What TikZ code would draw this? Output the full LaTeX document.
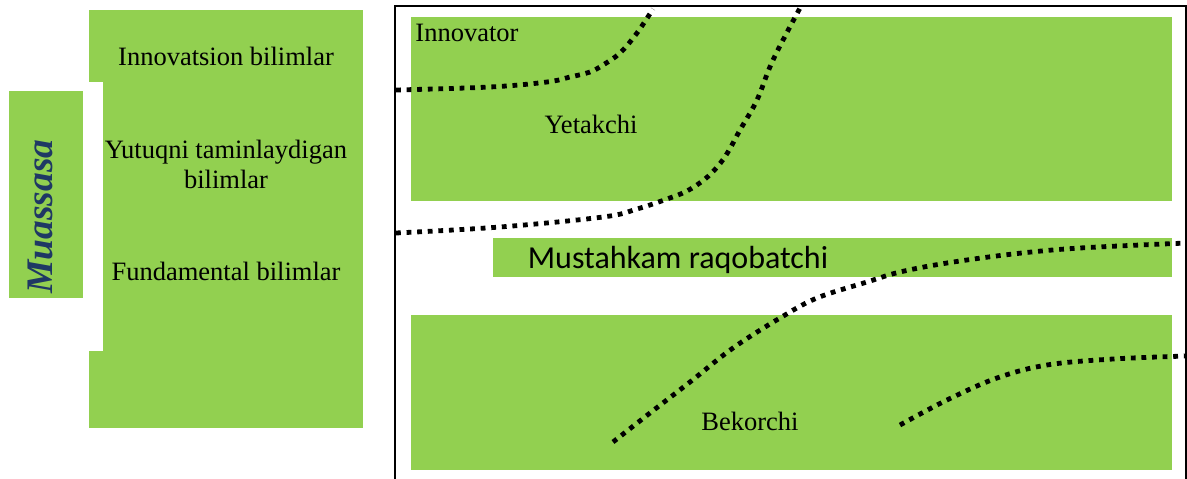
\documentclass[tikz,border=0pt]{standalone}
\usepackage{fontspec}
\setmainfont{Liberation Serif}
\newfontfamily\calfont{Carlito}
\definecolor{lgreen}{HTML}{92D050}
\definecolor{dblue}{HTML}{1F3864}
\tikzset{
  gbox/.style={fill=lgreen, draw=none},
  serif26/.style={font=\fontsize{26.5}{30}\selectfont, inner sep=0pt, anchor=base, text=black},
  frame/.style={draw=black, line cap=rect},
  dots/.style={line width=4.8pt, dash pattern=on 4.8pt off 5.8pt, black}
}
\begin{document}
\begin{tikzpicture}[x=1pt,y=-1pt]
\useasboundingbox (0,0) rectangle (1187,479);
% left block
\fill[lgreen] (89,10) rectangle (363,428);
\fill[white] (89,82) rectangle (103,351);
\fill[lgreen] (9,91) rectangle (83,298);
\node[font=\fontsize{37.5}{40}\selectfont\bfseries\itshape, text=dblue, inner sep=0pt, anchor=base, rotate=90] (mu) at (52,216.5) {Muassasa};
\node[serif26] (ib) at (226,65) {Innovatsion bilimlar};
\node[serif26, align=center] (yt) at (226,188) {Yutuqni taminlaydigan\\bilimlar};
\node[serif26] (fb) at (226,280) {Fundamental bilimlar};
% right green boxes
\fill[lgreen] (411,17) rectangle (1172,201);
\fill[lgreen] (493,238) rectangle (1172,277);
\fill[lgreen] (411,315) rectangle (1172,470);
% frame
\draw[frame, line width=2.4pt] (395,6) -- (395,482);
\draw[frame, line width=2pt] (395,6) -- (1186,6);
\draw[frame, line width=1.4pt] (1186,6) -- (1186,482);
% texts
\node[serif26] (inn) at (467,41) {Innovator};
\node[serif26] (yet) at (591,133) {Yetakchi};
\node[font=\calfont\fontsize{32}{34}\selectfont, inner sep=0pt, anchor=base] (mr) at (678,268) {Mustahkam raqobatchi};
\node[serif26] (bek) at (750,430) {Bekorchi};
% dotted curves
\draw[dots] plot[smooth, tension=0.6] coordinates {(396,90) (490,87) (547,82) (570,77) (590,72) (603,65) (620,53) (637,33) (653,9)};
\draw[dots] plot[smooth, tension=0.6] coordinates {(396,233) (500,227) (603,217) (637,209) (667,199) (687,191) (705,179) (718,166) (728,152) (740,130) (757,100) (773,60) (800,8)};
\draw[dots] plot[smooth, tension=0.6] coordinates {(613,442) (650,413) (690,382) (733,348) (780,318) (817,298) (867,282) (900,272) (947,263) (1013,254) (1080,248) (1187,243)};
\draw[dots] plot[smooth, tension=0.6] coordinates {(900,425) (947,400) (997,378) (1047,365) (1113,359) (1187,356)};
\end{tikzpicture}
\end{document}
